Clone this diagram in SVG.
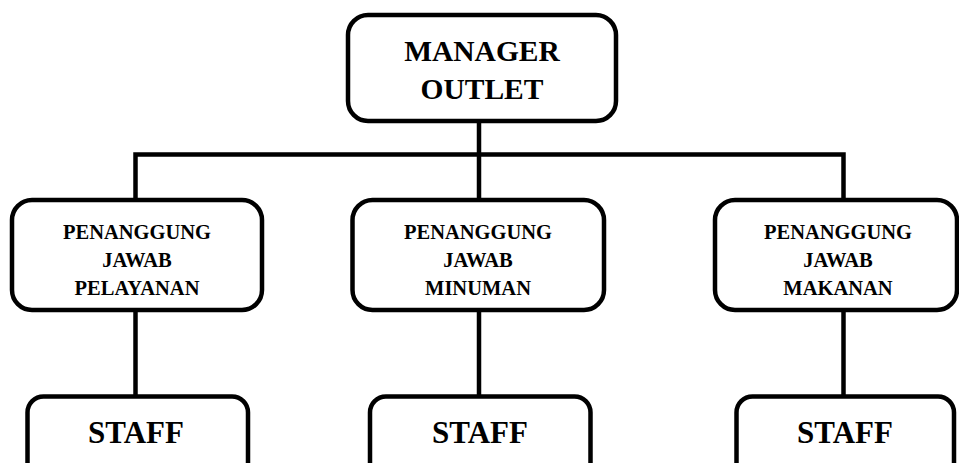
<svg xmlns="http://www.w3.org/2000/svg" width="959" height="463" viewBox="0 0 959 463">
  <style>
    .box { fill: #ffffff; stroke: #000000; stroke-width: 4.5; }
    .line { fill: none; stroke: #000000; stroke-width: 4.5; stroke-linecap: butt; stroke-linejoin: miter; }
    .t { font-family: 'Liberation Serif', 'Times New Roman', serif; font-weight: bold; fill: #000000; text-anchor: middle; }
    .big { font-size: 29.5px; }
    .mid { font-size: 20.5px; }
    .staff { font-size: 31px; }
  </style>
  <rect x="0" y="0" width="959" height="463" fill="#ffffff"/>
  <g id="connectors">
    <path class="line" d="M479 121 V200"/>
    <path class="line" d="M135.5 200 V154.5 H843.5 V200"/>
    <path class="line" d="M135.5 310 V396.5"/>
    <path class="line" d="M479 310 V396.5"/>
    <path class="line" d="M843.5 310 V396.5"/>
  </g>
  <g id="manager">
    <rect class="box" x="348" y="15" width="268" height="106" rx="20" ry="20"/>
    <text class="t big" x="482" y="61">MANAGER</text>
    <text class="t big" x="482" y="99">OUTLET</text>
  </g>
  <g id="pj-pelayanan">
    <rect class="box" x="12" y="200" width="250" height="110" rx="20" ry="20"/>
    <text class="t mid" x="137" y="239">PENANGGUNG</text>
    <text class="t mid" x="137" y="267">JAWAB</text>
    <text class="t mid" x="137" y="295">PELAYANAN</text>
  </g>
  <g id="pj-minuman">
    <rect class="box" x="352.5" y="200" width="251.5" height="110" rx="20" ry="20"/>
    <text class="t mid" x="478" y="239">PENANGGUNG</text>
    <text class="t mid" x="478" y="267">JAWAB</text>
    <text class="t mid" x="478" y="295">MINUMAN</text>
  </g>
  <g id="pj-makanan">
    <rect class="box" x="715" y="200" width="242" height="110" rx="20" ry="20"/>
    <text class="t mid" x="838" y="239">PENANGGUNG</text>
    <text class="t mid" x="838" y="267">JAWAB</text>
    <text class="t mid" x="838" y="295">MAKANAN</text>
  </g>
  <g id="staff-1">
    <rect class="box" x="27.5" y="396.5" width="220.5" height="90" rx="16" ry="16"/>
    <text class="t staff" x="136" y="443">STAFF</text>
  </g>
  <g id="staff-2">
    <rect class="box" x="370" y="396.5" width="220.5" height="90" rx="16" ry="16"/>
    <text class="t staff" x="480" y="443">STAFF</text>
  </g>
  <g id="staff-3">
    <rect class="box" x="736.5" y="396.5" width="217.5" height="90" rx="16" ry="16"/>
    <text class="t staff" x="845" y="443">STAFF</text>
  </g>
</svg>
